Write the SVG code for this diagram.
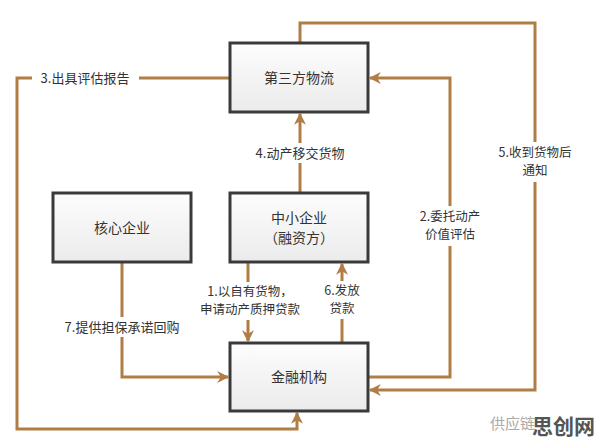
<svg xmlns="http://www.w3.org/2000/svg" width="596" height="447" viewBox="0 0 596 447">
<defs>
<linearGradient id="g" x1="0" y1="0" x2="0" y2="1">
<stop offset="0" stop-color="#fdfdfd"/><stop offset="1" stop-color="#ebebeb"/>
</linearGradient>
<marker id="a" viewBox="0 0 10 10" refX="9" refY="5" markerWidth="4" markerHeight="4" orient="auto" markerUnits="strokeWidth">
<path d="M0,0 L10,5 L0,10 L3,5 z" fill="#b07d45"/>
</marker>
</defs>
<style>
.n{fill:url(#g);stroke:#3a3a3a;stroke-width:3}
.t{font-family:"Noto Sans CJK SC","Noto Sans",sans-serif;font-size:14px;fill:#333;text-anchor:middle}
.c{fill:none;stroke:#b07d45;stroke-width:3;marker-end:url(#a)}
.l{font-family:"Noto Sans CJK SC","Noto Sans",sans-serif;font-size:13px;fill:#333;text-anchor:middle}
.s{font-size:12.5px}
.bg{fill:#fff}
</style>
<rect width="596" height="447" fill="#fff"/>
<g id="connectors">
<path class="c" d="M300,193 V114"/>
<path class="c" d="M248,262 V341"/>
<path class="c" d="M342,343 V264"/>
<path class="c" d="M122,262 V377 H228"/>
<path class="c" d="M368,377 H450 V78 H370"/>
<path class="c" d="M300,43 V23 H535 V390 H370"/>
<path class="c" d="M230,78 H17 V429 H297 V413"/>
<rect class="bg" x="32" y="68" width="107" height="20"/>
<text class="l" x="85" y="83">3.出具评估报告</text>
<rect class="bg" x="246" y="143" width="108" height="20"/>
<text class="l" x="300" y="158">4.动产移交货物</text>
<rect class="bg" x="488" y="142" width="94" height="40"/>
<text class="l s" x="535" y="157">5.收到货物后</text>
<text class="l s" x="535" y="175">通知</text>
<rect class="bg" x="416" y="206" width="68" height="40"/>
<text class="l s" x="450" y="221">2.委托动产</text>
<text class="l s" x="450" y="239">价值评估</text>
<rect class="bg" x="195" y="282" width="110" height="38"/>
<text class="l s" x="250" y="296">1.以自有货物，</text>
<text class="l s" x="250" y="314">申请动产质押贷款</text>
<rect class="bg" x="320" y="281" width="44" height="38"/>
<text class="l s" x="342" y="295">6.发放</text>
<text class="l s" x="342" y="313">贷款</text>
<rect class="bg" x="53" y="317" width="138" height="20"/>
<text class="l" x="122" y="332">7.提供担保承诺回购</text>
</g>
<g id="n1"><rect class="n" x="230" y="43" width="138" height="69"/><text class="t" x="299" y="83">第三方物流</text></g>
<g id="n2"><rect class="n" x="53" y="193" width="138" height="69"/><text class="t" x="122" y="233">核心企业</text></g>
<g id="n3"><rect class="n" x="230" y="193" width="138" height="69"/><text class="t" x="299" y="223">中小企业</text><text class="t" x="299" y="243">（融资方）</text></g>
<g id="n4"><rect class="n" x="230" y="343" width="138" height="68"/><text class="t" x="299" y="382">金融机构</text></g>
<text x="490" y="429" font-family="Noto Sans CJK SC,sans-serif" font-size="15" fill="#aaa">供应链</text>
<text x="532" y="434" font-family="Noto Sans CJK SC,sans-serif" font-size="21" font-weight="bold" fill="#555">思创网</text>
</svg>
